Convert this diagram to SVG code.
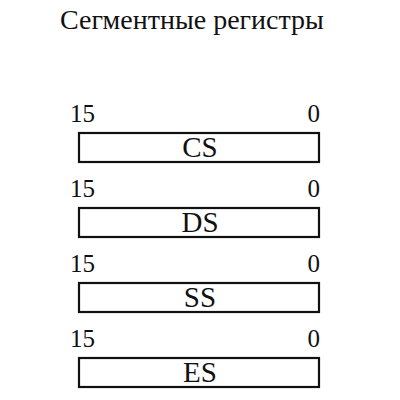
<svg xmlns="http://www.w3.org/2000/svg" width="400" height="400" viewBox="0 0 400 400">
<style>
text{font-family:"Liberation Serif",serif;fill:#111}
.t{font-size:28px}
.n{font-size:25px}
.r{font-size:29px;text-anchor:middle}
.e{text-anchor:end}
.box{fill:#fff;stroke:#111;stroke-width:2.2}
</style>
<rect width="400" height="400" fill="#fff"/>
<text class="t" x="60" y="29">Сегментные регистры</text>
<g id="cs">
<text class="n" x="70" y="122">15</text><text class="n e" x="320" y="122">0</text>
<rect class="box" x="79" y="133" width="240" height="29"/>
<text class="r" x="200" y="157">CS</text>
</g>
<g id="ds">
<text class="n" x="70" y="197">15</text><text class="n e" x="320" y="197">0</text>
<rect class="box" x="79" y="208" width="240" height="29"/>
<text class="r" x="200" y="232">DS</text>
</g>
<g id="ss">
<text class="n" x="70" y="272">15</text><text class="n e" x="320" y="272">0</text>
<rect class="box" x="79" y="283" width="240" height="29"/>
<text class="r" x="200" y="307">SS</text>
</g>
<g id="es">
<text class="n" x="70" y="347">15</text><text class="n e" x="320" y="347">0</text>
<rect class="box" x="79" y="358" width="240" height="29"/>
<text class="r" x="200" y="382">ES</text>
</g>
<g id="connectors"/>
</svg>
